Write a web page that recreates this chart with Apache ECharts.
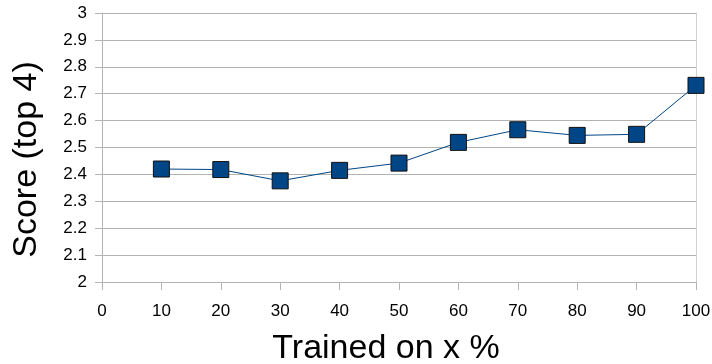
<!DOCTYPE html>
<html>
<head>
<meta charset="utf-8">
<script src="https://cdn.jsdelivr.net/npm/echarts@6/dist/echarts.min.js"></script>
<style>
  html, body { margin: 0; padding: 0; background: #fff; }
  #chart { width: 712px; height: 364px; }
</style>
</head>
<body>
<div id="chart"></div>
<script>
// Share of training data used (%)
const trainedPercent = [10, 20, 30, 40, 50, 60, 70, 80, 90, 100];
// Score (top 4) at each training share
const scoreTop4 = [2.42, 2.418, 2.376, 2.415, 2.442, 2.519, 2.566, 2.545, 2.549, 2.731];

const xTicks = { min: 0, max: 100, interval: 10 };
const yTicks = { min: 2, max: 3, interval: 0.1 };

const FONT = '"Liberation Sans", Arial, sans-serif';
const GRID_COLOR = '#b3b3b3';

const chart = echarts.init(document.getElementById('chart'), null, { renderer: 'canvas' });

chart.setOption({
  animation: false,
  backgroundColor: '#ffffff',
  grid: {
    left: 102, right: 16, top: 13, bottom: 82,
    containLabel: false,
    outerBoundsMode: 'none'
  },
  xAxis: {
    type: 'value',
    min: xTicks.min,
    max: xTicks.max,
    interval: xTicks.interval,
    name: 'Trained on x %',
    nameLocation: 'middle',
    nameGap: 50,
    nameTextStyle: { fontFamily: FONT, fontSize: 34, color: '#000', padding: [0, 26, 0, 0] },
    axisLine: { show: true, lineStyle: { color: GRID_COLOR, width: 1 } },
    axisTick: { show: true, length: 8, lineStyle: { color: GRID_COLOR } },
    axisLabel: { fontFamily: FONT, fontSize: 17, color: '#000', margin: 21 },
    splitLine: { show: false }
  },
  yAxis: [
    {
      type: 'value',
      min: yTicks.min,
      max: yTicks.max,
      interval: yTicks.interval,
      name: 'Score (top 4)',
      nameLocation: 'middle',
      nameGap: 58,
      nameRotate: 90,
      nameTextStyle: { fontFamily: FONT, fontSize: 34, color: '#000', padding: [0, 24, 0, 0] },
      axisLine: { show: true, lineStyle: { color: GRID_COLOR, width: 1 } },
      axisTick: { show: true, length: 7, lineStyle: { color: GRID_COLOR } },
      axisLabel: {
        fontFamily: FONT, fontSize: 17, color: '#000', margin: 15,
        formatter: v => String(Math.round(v * 10) / 10)
      },
      splitLine: { show: true, lineStyle: { color: GRID_COLOR, width: 1 } }
    },
    {
      // right-hand frame of the plot area
      type: 'value',
      position: 'right',
      min: yTicks.min,
      max: yTicks.max,
      interval: yTicks.interval,
      axisLine: { show: true, lineStyle: { color: '#d0d0d0', width: 1 } },
      axisTick: { show: false },
      axisLabel: { show: false },
      splitLine: { show: false }
    }
  ],
  series: [
    {
      type: 'line',
      yAxisIndex: 0,
      data: trainedPercent.map((x, i) => [x, scoreTop4[i]]),
      symbol: 'rect',
      symbolSize: 16,
      lineStyle: { color: '#004586', width: 1 },
      itemStyle: { color: '#004586', borderColor: '#111111', borderWidth: 1 },
      z: 3
    }
  ]
});
</script>
</body>
</html>
